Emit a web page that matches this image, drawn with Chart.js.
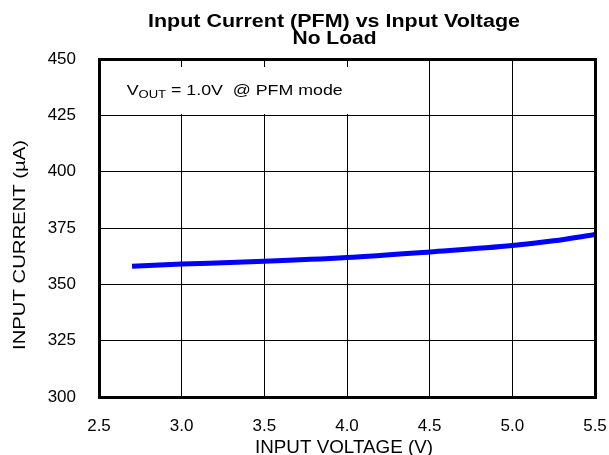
<!DOCTYPE html>
<html>
<head>
<meta charset="utf-8">
<script src="https://cdn.jsdelivr.net/npm/chart.js@4/dist/chart.umd.min.js"></script>
<style>
  body { margin: 0; background: #fff; }
  canvas { display: block; }
</style>
</head>
<body>
<canvas id="canvas-1" width="609" height="455"></canvas>
<script>
// input voltage (V) and input current (uA)
let napon = [2.7, 3.0, 3.25, 3.5, 4.0, 4.5, 5.0, 5.25, 5.5]
let struja = [358.0, 359.0, 359.6, 360.2, 361.9, 364.4, 367.2, 369.3, 372.1]
let xTicks = [2.5, 3.0, 3.5, 4.0, 4.5, 5.0, 5.5]
let yTicks = [300, 325, 350, 375, 400, 425, 450]

const FONT = 'Liberation Sans, Arial, Helvetica, sans-serif'

// text squeezed/stretched to a given width (original uses wide text)
function fitText(ctx, txt, cx, cy, font, w, rot) {
  ctx.save()
  ctx.font = font
  let sx = w / ctx.measureText(txt).width
  ctx.translate(cx, cy)
  if (rot) ctx.rotate(rot)
  ctx.scale(sx, 1)
  ctx.textAlign = 'center'
  ctx.textBaseline = 'alphabetic'
  ctx.fillStyle = '#000'
  ctx.fillText(txt, 0, 0)
  ctx.restore()
}

const okvir = {
  id: 'okvir',
  beforeDatasetsDraw(chart) {
    const ctx = chart.ctx
    // white box behind the note
    ctx.save()
    ctx.fillStyle = '#fff'
    ctx.fillRect(103, 67, 249, 47)
    // V_OUT = 1.0V @ PFM mode
    let big = '15px ' + FONT, small = '11px ' + FONT
    let rest = ' = 1.0V  @ PFM mode'
    ctx.font = big
    let wV = ctx.measureText('V').width, wR = ctx.measureText(rest).width
    ctx.font = small
    let wO = ctx.measureText('OUT').width
    let sx = 216 / (wV + wO + wR)
    ctx.translate(126.7, 95)
    ctx.scale(sx, 1)
    ctx.fillStyle = '#000'
    ctx.textBaseline = 'alphabetic'
    ctx.textAlign = 'left'
    ctx.font = big
    ctx.fillText('V', 0, 0)
    ctx.font = small
    ctx.fillText('OUT', wV, 3)
    ctx.font = big
    ctx.fillText(rest, wV + wO, 0)
    ctx.restore()
  },
  afterDraw(chart) {
    const ctx = chart.ctx
    const a = chart.chartArea
    ctx.save()
    ctx.strokeStyle = '#000'
    ctx.lineWidth = 3
    ctx.strokeRect(a.left + 0.5, a.top + 0.5, a.right - a.left, a.bottom - a.top)
    ctx.restore()
    // naslovi
    fitText(ctx, 'Input Current (PFM) vs Input Voltage', 334, 26.7, 'bold 18px ' + FONT, 372)
    fitText(ctx, 'No Load', 334.5, 44.3, 'bold 18px ' + FONT, 84)
    fitText(ctx, 'INPUT VOLTAGE (V)', 344, 452.5, '18.5px ' + FONT, 178)
    fitText(ctx, 'INPUT CURRENT (µA)', 25, 245, '16.5px ' + FONT, 210, -Math.PI / 2)
  }
}

const lineChart = new Chart(document.getElementById('canvas-1'), {
  type: 'line',
  data: {
    datasets: [{
      data: napon.map((v, i) => ({ x: v, y: struja[i] })),
      borderColor: '#0000ff',
      borderWidth: 5,
      pointRadius: 0,
      cubicInterpolationMode: 'monotone',
      borderCapStyle: 'butt'
    }]
  },
  options: {
    responsive: false,
    animation: false,
    layout: {
      padding: { top: 59, right: 14, left: 0, bottom: 0 }
    },
    plugins: {
      legend: { display: false },
      tooltip: { enabled: false },
      title: { display: false }
    },
    scales: {
      x: {
        type: 'linear',
        min: 2.5,
        max: 5.5,
        afterFit(s) { s.height = 58; s.paddingLeft = 0; s.paddingRight = 0 },
        afterBuildTicks(s) { s.ticks = xTicks.map(v => ({ value: v })) },
        grid: { color: '#000', lineWidth: 1, drawTicks: false },
        border: { display: false },
        ticks: {
          color: '#000',
          padding: 19,
          maxRotation: 0,
          font: { size: 17, family: FONT },
          callback: v => v.toFixed(1)
        }
      },
      y: {
        min: 300,
        max: 450,
        afterFit(s) { s.width = 99; s.paddingTop = 0; s.paddingBottom = 0 },
        afterBuildTicks(s) { s.ticks = yTicks.map(v => ({ value: v })) },
        grid: { color: '#000', lineWidth: 1, drawTicks: false },
        border: { display: false },
        ticks: {
          color: '#000',
          padding: 23,
          font: { size: 17, family: FONT }
        }
      }
    }
  },
  plugins: [okvir]
})
</script>
</body>
</html>
